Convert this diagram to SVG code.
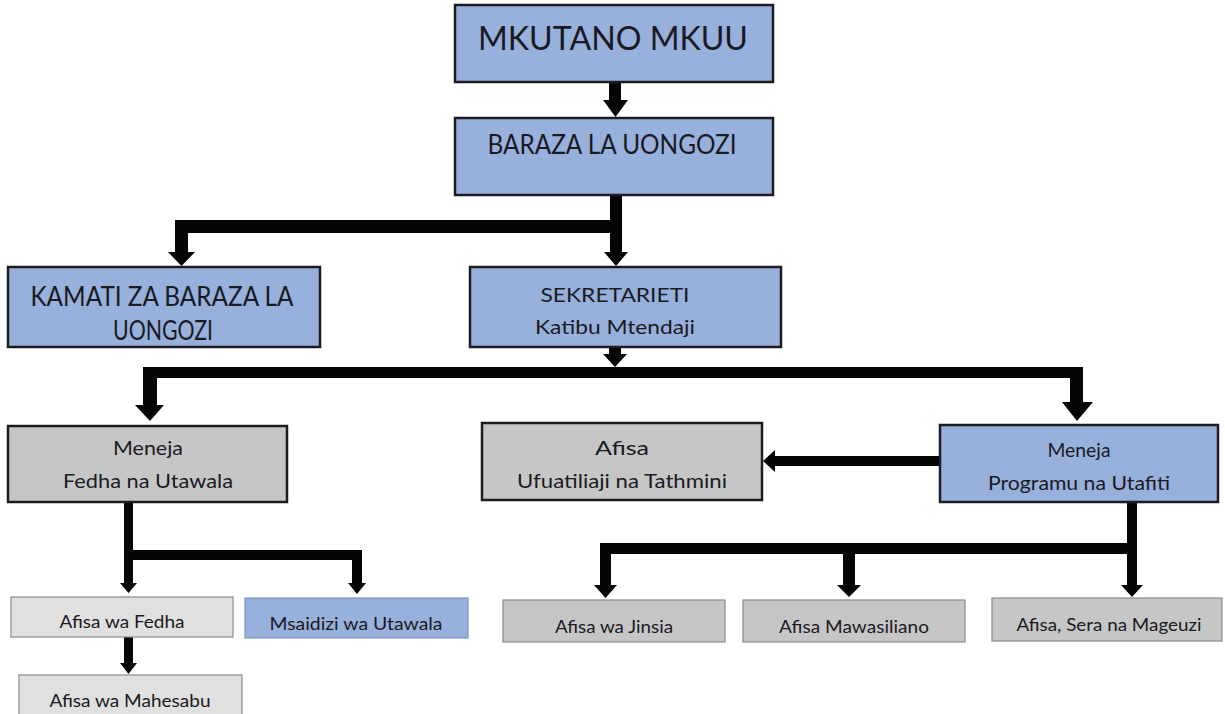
<svg xmlns="http://www.w3.org/2000/svg" width="1225" height="714" viewBox="0 0 1225 714">
<style>
.bg{fill:#ffffff}
.big{stroke:#1c1c22;stroke-width:2.5}
.small{stroke:#8a8a8a;stroke-width:1.2}
.blue{fill:#97b0dc}
.gray{fill:#c6c6c6}
.lgray{fill:#e0e0e0}
.sblue{fill:#97b0dc;stroke:#7d93bd;stroke-width:1.2}
text{font-family:Lato,"Open Sans","Liberation Sans",sans-serif;fill:#1a1a22;text-anchor:middle}
.t1{font-size:32px}
.t2{font-size:26px}
.t3{font-size:20px}
.t4{font-size:16.5px}
.con{fill:#050505}
</style>
<rect class="bg" x="0" y="0" width="1225" height="714"/>

<g id="connectors">
  <!-- MKUTANO -> BARAZA -->
  <path class="con" d="M609,82 H621 V100 H628 L615.5,117 L603,100 H609 Z"/>
  <!-- BARAZA -> split -->
  <path class="con" d="M610,195 H622 V252 H628 L616,266 L604,252 H610 Z"/>
  <path class="con" d="M175,220 H622 V233 H188 V252 H195 L181.5,266 L168,252 H175 Z"/>
  <!-- SEKRETARIETI -> bar -->
  <path class="con" d="M609,347 H621 V354 H627 L615,367 L603,354 H609 Z"/>
  <path class="con" d="M143,367 H1083 V402 H1093 L1077,421 L1062,402 H1070 V378 H157 V405 H164 L150,421 L135,405 H143 Z"/>
  <!-- Meneja Programu -> Afisa Ufuatiliaji -->
  <path class="con" d="M940,456 V466 H775 V472 L763,461 L775,450 V456 Z"/>
  <!-- Meneja Fedha -> children -->
  <path class="con" d="M124,502 H133 V550 H362 V583 H366 L357,594 L348,583 H352 V560 H133 V583 H137 L128.5,593 L120,583 H124 Z"/>
  <!-- Afisa wa Fedha -> Mahesabu -->
  <path class="con" d="M124,637 H133 V663 H137 L128.5,674 L120,663 H124 Z"/>
  <!-- Meneja Programu -> children -->
  <path class="con" d="M1127,502 H1137 V585 H1143 L1132,597 L1121,585 H1127 V554 H855 V585 H861 L849,597 L837,585 H843 V554 H611 V585 H617 L605.5,598 L594,585 H600 V543 H1127 Z"/>
</g>

<g id="node-mkutano">
  <rect class="blue big" x="455" y="5" width="318" height="77"/>
  <text class="t1" x="613" y="50" textLength="270" lengthAdjust="spacingAndGlyphs">MKUTANO MKUU</text>
</g>
<g id="node-baraza">
  <rect class="blue big" x="455" y="118" width="318" height="77"/>
  <text class="t2" x="612" y="154" textLength="249" lengthAdjust="spacingAndGlyphs">BARAZA LA UONGOZI</text>
</g>
<g id="node-kamati">
  <rect class="blue big" x="8" y="267" width="312" height="80"/>
  <text class="t2" x="162" y="306" textLength="263" lengthAdjust="spacingAndGlyphs">KAMATI ZA BARAZA LA</text>
  <text class="t2" x="163" y="340" textLength="100" lengthAdjust="spacingAndGlyphs">UONGOZI</text>
</g>
<g id="node-sekretarieti">
  <rect class="blue big" x="470" y="267" width="311" height="80"/>
  <text class="t3" x="615" y="302" textLength="149" lengthAdjust="spacingAndGlyphs">SEKRETARIETI</text>
  <text class="t3" x="615" y="334" textLength="160" lengthAdjust="spacingAndGlyphs">Katibu Mtendaji</text>
</g>
<g id="node-meneja-fedha">
  <rect class="gray big" x="8" y="426" width="279" height="76"/>
  <text class="t3" x="148" y="455" textLength="70" lengthAdjust="spacingAndGlyphs">Meneja</text>
  <text class="t3" x="148" y="488" textLength="170" lengthAdjust="spacingAndGlyphs">Fedha na Utawala</text>
</g>
<g id="node-afisa-ufuatiliaji">
  <rect class="gray big" x="482" y="423" width="280" height="77"/>
  <text class="t3" x="622" y="455" textLength="54" lengthAdjust="spacingAndGlyphs">Afisa</text>
  <text class="t3" x="622" y="488" textLength="210" lengthAdjust="spacingAndGlyphs">Ufuatiliaji na Tathmini</text>
</g>
<g id="node-meneja-programu">
  <rect class="blue big" x="940" y="425" width="278" height="77"/>
  <text class="t3" x="1079" y="457" textLength="63" lengthAdjust="spacingAndGlyphs">Meneja</text>
  <text class="t3" x="1079" y="490" textLength="182" lengthAdjust="spacingAndGlyphs">Programu na Utafiti</text>
</g>
<g id="node-afisa-fedha">
  <rect class="lgray small" x="11" y="597" width="222" height="40"/>
  <text class="t4" x="122" y="628" textLength="125" lengthAdjust="spacingAndGlyphs">Afisa wa Fedha</text>
</g>
<g id="node-msaidizi">
  <rect class="sblue" x="245" y="598" width="223" height="40"/>
  <text class="t4" x="356" y="630" textLength="173" lengthAdjust="spacingAndGlyphs">Msaidizi wa Utawala</text>
</g>
<g id="node-afisa-mahesabu">
  <rect class="lgray small" x="19" y="675" width="223" height="45"/>
  <text class="t4" x="130" y="707" textLength="161" lengthAdjust="spacingAndGlyphs">Afisa wa Mahesabu</text>
</g>
<g id="node-afisa-jinsia">
  <rect class="gray small" x="503" y="600" width="222" height="42"/>
  <text class="t4" x="614" y="633" textLength="118" lengthAdjust="spacingAndGlyphs">Afisa wa Jinsia</text>
</g>
<g id="node-afisa-mawasiliano">
  <rect class="gray small" x="743" y="600" width="222" height="42"/>
  <text class="t4" x="854" y="633" textLength="150" lengthAdjust="spacingAndGlyphs">Afisa Mawasiliano</text>
</g>
<g id="node-afisa-sera">
  <rect class="gray small" x="992" y="598" width="230" height="43"/>
  <text class="t4" x="1109" y="631" textLength="185" lengthAdjust="spacingAndGlyphs">Afisa, Sera na Mageuzi</text>
</g>
</svg>
